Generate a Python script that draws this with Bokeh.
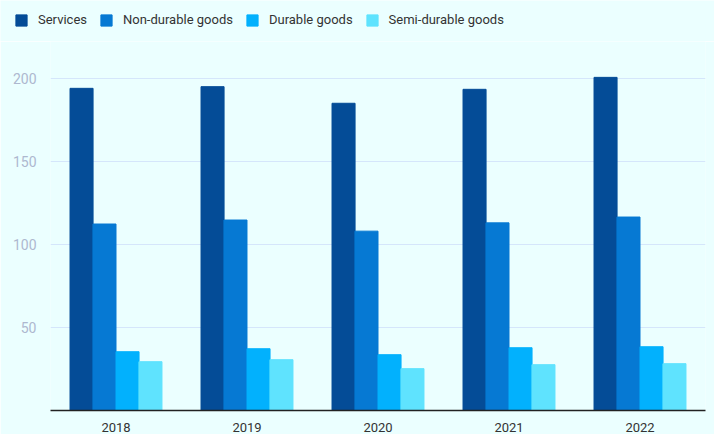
from bokeh.plotting import figure
from bokeh.models import ColumnDataSource, FactorRange, Legend, FixedTicker, Range1d
from bokeh.layouts import column
from bokeh.transform import dodge
from bokeh.embed import file_html
from bokeh.resources import INLINE

years = ["2018", "2019", "2020", "2021", "2022"]
services = [194, 195, 185, 193.4, 200.6]
non_durable = [112.3, 114.7, 108, 113, 116.5]
durable = [35.4, 37.2, 33.6, 37.8, 38.4]
semi_durable = [29.4, 30.6, 25.2, 27.6, 28.2]

series_names = ["Services", "Non-durable goods", "Durable goods", "Semi-durable goods"]
series_keys = ["services", "non_durable", "durable", "semi_durable"]
colors = ["#044c97", "#0679d3", "#02b1fd", "#5fe3fe"]
offsets = [-0.263, -0.088, 0.088, 0.263]

src = ColumnDataSource(dict(years=years, services=services, non_durable=non_durable,
                            durable=durable, semi_durable=semi_durable))

BG = "#ebffff"

# legend strip (swatch renderers sit outside the visible range; only their legend entries show)
top = figure(width=714, height=41, x_range=Range1d(0, 1), y_range=Range1d(0, 1),
             output_backend="svg", toolbar_location=None,
             min_border_left=0, min_border_right=0, min_border_top=0, min_border_bottom=0)
top.frame_align = False
top.background_fill_color = BG
top.border_fill_color = BG
top.outline_line_color = None
top.axis.visible = False
top.grid.grid_line_color = None
legend_items = []
for name, c in zip(series_names, colors):
    r = top.vbar(x=[5], top=[6], bottom=[5], width=0.1, fill_color=c, line_color=c)
    legend_items.append((name, [r]))
legend = Legend(items=legend_items, orientation="horizontal", location=(14, 14),
                background_fill_alpha=0, border_line_color=None,
                glyph_width=14, glyph_height=14, label_standoff=10, spacing=12,
                label_text_font="Roboto", label_text_font_size="13px", label_text_color="#333333",
                padding=0, margin=0)
top.add_layout(legend)

# main chart
p = figure(width=714, height=393, x_range=FactorRange(*years), y_range=Range1d(0, 222.2),
           output_backend="svg", toolbar_location=None,
           min_border_left=50, min_border_right=9, min_border_bottom=23, min_border_top=0)
p.frame_align = False
p.background_fill_color = BG
p.border_fill_color = BG
p.outline_line_color = None

for key, c, off in zip(series_keys, colors, offsets):
    p.vbar(x=dodge("years", off, range=p.x_range), top=key, width=0.176, source=src,
           fill_color=c, line_color=c)

p.yaxis.ticker = FixedTicker(ticks=[50, 100, 150, 200])
p.yaxis.axis_line_color = None
p.yaxis.major_tick_line_color = None
p.yaxis.minor_tick_line_color = None
p.yaxis.major_label_text_font = "Roboto"
p.yaxis.major_label_text_font_size = "14px"
p.yaxis.major_label_text_color = "#aeb8cf"
p.yaxis.major_label_standoff = 8

p.xaxis.axis_line_color = "#222222"
p.xaxis.axis_line_width = 1.5
p.xaxis.major_tick_line_color = None
p.xaxis.minor_tick_line_color = None
p.xaxis.major_label_text_font = "Roboto"
p.xaxis.major_label_text_font_size = "13px"
p.xaxis.major_label_text_color = "#333333"
p.xaxis.major_label_standoff = 6

p.xgrid.grid_line_color = None
p.ygrid.grid_line_color = "#d5e6fb"
p.ygrid.ticker = FixedTicker(ticks=[50, 100, 150, 200])

layout = column(top, p, spacing=0)
open("out.html", "w").write(file_html(layout, INLINE))
